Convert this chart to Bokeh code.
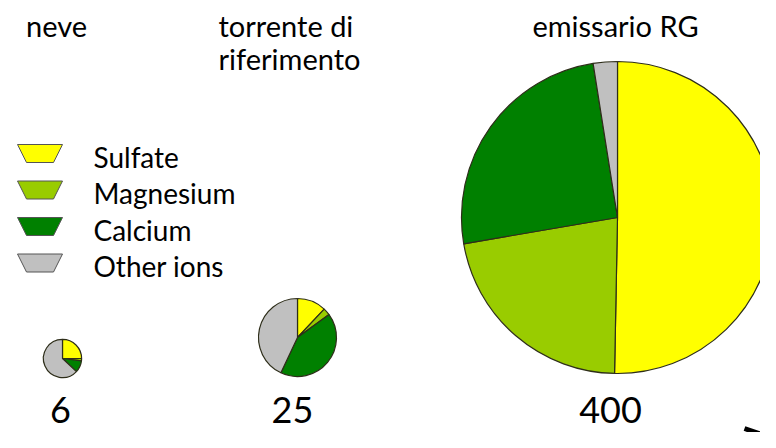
import numpy as np
from bokeh.plotting import figure
from bokeh.models import Range1d
from bokeh.embed import file_html
from bokeh.resources import INLINE
from bokeh.core.properties import value

# ---------------- data ----------------
site_lines = [["neve"], ["torrente di", "riferimento"], ["emissario RG"]]
totals = [6, 25, 400]
ions = ["Sulfate", "Magnesium", "Calcium", "Other ions"]
sulfate = [25.0, 12.0, 50.3]
magnesium = [2.0, 3.0, 22.0]
calcium = [10.0, 42.0, 25.2]
other = [63.0, 43.0, 2.5]
colors = ["#FFFF00", "#99CC00", "#008000", "#C0C0C0"]

# ---------------- layout (picture pixels) ----------------
W, H = 760, 432
FONT = "Lato"
pie_cx = [62, 297, 617]
pie_cy = [358, 337, 217]
radius_scale = 7.8          # radius = scale * sqrt(total)
title_x = [56, 218, 615]
title_align = ["center", "left", "center"]
title_y0 = 25
title_dy = 33
num_x = [60, 292, 610]
num_y = 409
leg_x = 17
leg_y0 = 144
leg_dy = 36.5
leg_text_x = 93


def Y(py):
    # picture pixel y (from top) -> data y
    return H - py


p = figure(width=W, height=H, output_backend="svg", toolbar_location=None,
           x_range=Range1d(0, W), y_range=Range1d(0, H),
           min_border=0, border_fill_color="white", background_fill_color="white")
p.axis.visible = False
p.grid.visible = False
p.outline_line_color = None

# ---------------- pies ----------------
series = [sulfate, magnesium, calcium, other]
for i in range(len(totals)):
    vals = np.array([s[i] for s in series], dtype=float)
    frac = vals / vals.sum()
    cum = np.concatenate([[0.0], np.cumsum(frac)])
    starts = np.pi / 2 - 2 * np.pi * cum[1:]
    ends = np.pi / 2 - 2 * np.pi * cum[:-1]
    r = radius_scale * np.sqrt(totals[i])
    p.wedge(x=[pie_cx[i]] * 4, y=[Y(pie_cy[i])] * 4, radius=r,
            start_angle=list(starts), end_angle=list(ends), direction="anticlock",
            fill_color=colors, line_color="#2e2e1a", line_width=1.2)

# ---------------- titles ----------------
for i, lines in enumerate(site_lines):
    for k, t in enumerate(lines):
        p.text(x=[title_x[i]], y=[Y(title_y0 + k * title_dy)], text=[t],
               text_font=value(FONT), text_font_size="29px", text_color="#000000",
               text_align=title_align[i], text_baseline="middle")

# ---------------- totals ----------------
p.text(x=num_x, y=[Y(num_y)] * 3, text=[str(v) for v in totals],
       text_font=value(FONT), text_font_size="36px", text_color="#000000",
       text_align="center", text_baseline="middle")

# ---------------- legend ----------------
xs, ys = [], []
for j in range(len(ions)):
    top = leg_y0 + j * leg_dy
    xs.append([leg_x, leg_x + 45, leg_x + 36, leg_x + 9])
    ys.append([Y(top), Y(top), Y(top + 18), Y(top + 18)])
p.patches(xs=xs, ys=ys, fill_color=colors, line_color="#555555", line_width=1)
p.text(x=[leg_text_x] * 4, y=[Y(leg_y0 + 12 + j * leg_dy) for j in range(4)], text=ions,
       text_font=value(FONT), text_font_size="28px", text_color="#000000",
       text_align="left", text_baseline="middle")

# small arrow fragment at the bottom-right corner
p.line(x=[744, 770], y=[Y(428), Y(437)], line_color="black", line_width=5)

open("out.html", "w").write(file_html(p, INLINE))
